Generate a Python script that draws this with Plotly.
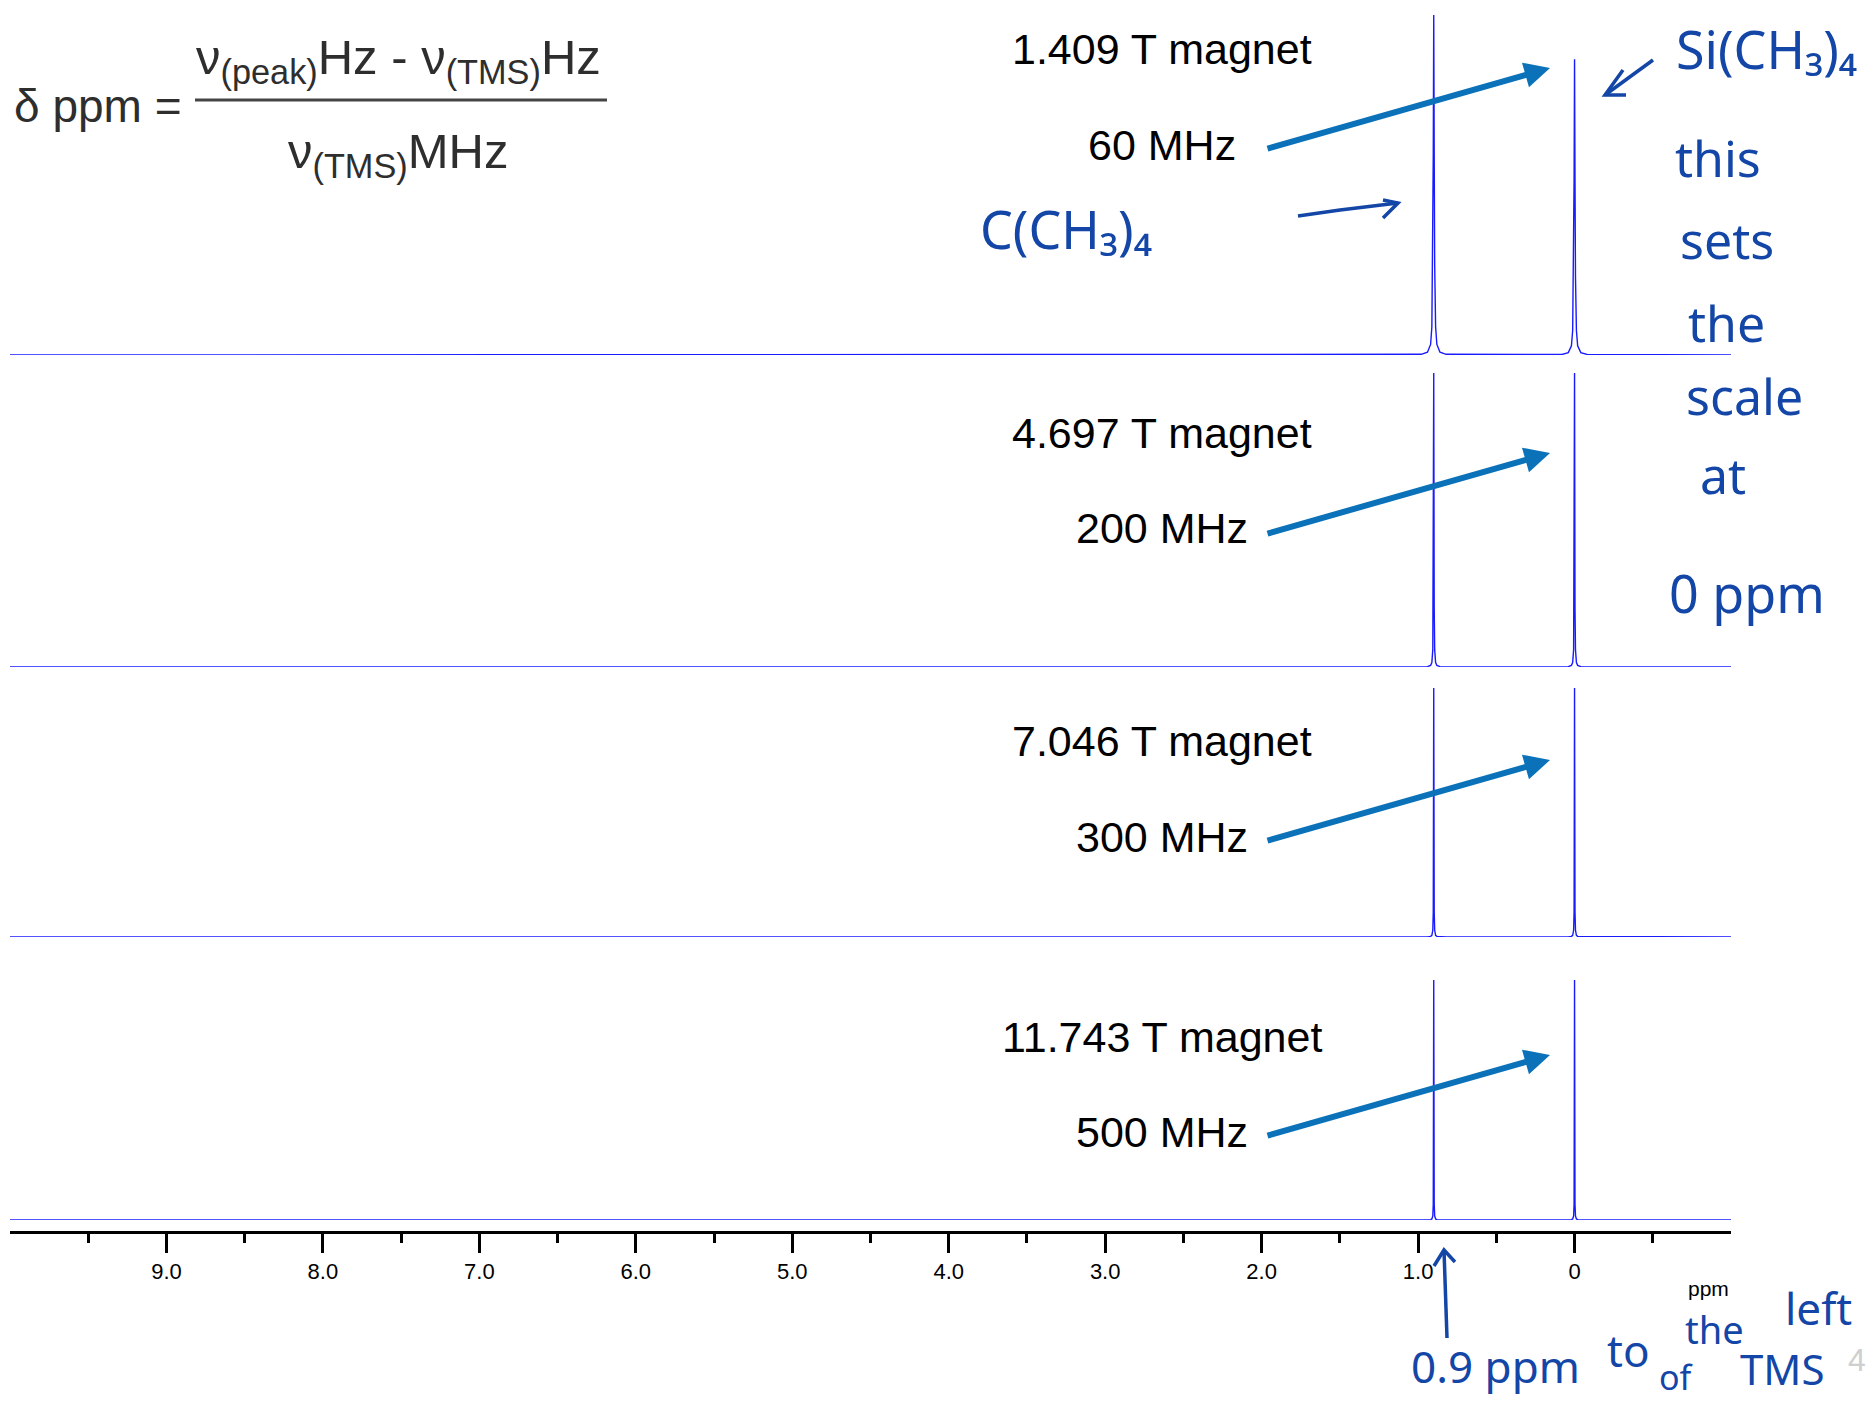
import plotly.graph_objects as go

W, H = 1874, 1407          # browser window
PAD = 8                    # default body margin of the html page
FW, FH = W - 2 * PAD, H - 2 * PAD   # figure size so that it fits in the window

# ---------------- data ----------------
peak_ppm = [0.9, 0.0]                     # C(CH3)4 and Si(CH3)4 (TMS)
field_labels = ["1.409 T magnet", "4.697 T magnet", "7.046 T magnet", "11.743 T magnet"]
freq_labels = ["60 MHz", "200 MHz", "300 MHz", "500 MHz"]
peak_heights = [[1.0, 0.87], [1.0, 1.0], [1.0, 1.0], [1.0, 1.0]]
axis_range = [10.0, -1.0]
profile_offsets = [-0.08, -0.04, -0.02, -0.012, -0.006, -0.003, 0.0,
                   0.003, 0.006, 0.012, 0.02, 0.04, 0.08]
profile_60 = [0.002, 0.008, 0.031, 0.083, 0.265, 0.59, 1.0, 0.59, 0.265, 0.083, 0.031, 0.008, 0.002]
profile_200 = [0.0004, 0.0014, 0.0056, 0.015, 0.059, 0.2, 1.0, 0.2, 0.059, 0.015, 0.0056, 0.0014, 0.0004]
profile_300 = [0.0002, 0.0006, 0.0025, 0.0069, 0.027, 0.1, 1.0, 0.1, 0.027, 0.0069, 0.0025, 0.0006, 0.0002]
profile_500 = [0.0001, 0.0004, 0.0016, 0.0044, 0.017, 0.066, 1.0, 0.066, 0.017, 0.0044, 0.0016, 0.0004, 0.0001]
profiles = [profile_60, profile_200, profile_300, profile_500]
major_ticks = [9, 8, 7, 6, 5, 4, 3, 2, 1, 0]
major_tick_text = ["9.0", "8.0", "7.0", "6.0", "5.0", "4.0", "3.0", "2.0", "1.0", "0"]
minor_ticks = [9.5, 8.5, 7.5, 6.5, 5.5, 4.5, 3.5, 2.5, 1.5, 0.5, -0.5]

# ---------------- layout helpers (window pixels -> paper fraction) ----------------
def fx(x):
    return (x - PAD) / FW

def fy(y):
    return 1 - (y - PAD) / FH

# panel pixel geometry: (baseline y, top y)
panel_px = [(355, 15), (667, 373), (937, 688), (1220, 980)]

fig = go.Figure()
LINE = "#1a1aff"

for i in range(4):
    xs, ys = [axis_range[1]], [0.0]
    for p, h in sorted(zip(peak_ppm, peak_heights[i])):
        for o, v in zip(profile_offsets, profiles[i]):
            xs.append(p + o)
            ys.append(h * v)
    xs.append(axis_range[0])
    ys.append(0.0)
    fig.add_trace(go.Scatter(
        x=xs, y=ys, mode="lines", line=dict(color=LINE, width=1.4),
        xaxis="x", yaxis="y" if i == 0 else f"y{i+1}", showlegend=False,
        hoverinfo="skip"))

layout = dict(
    width=FW, height=FH, margin=dict(l=0, r=0, t=0, b=0),
    paper_bgcolor="white", plot_bgcolor="white", showlegend=False,
    xaxis=dict(
        range=axis_range, domain=[fx(10), fx(1731)], anchor="free",
        position=fy(1232), showline=True, linecolor="black", linewidth=3,
        showgrid=False, zeroline=False, ticks="outside", ticklen=19,
        tickwidth=3, tickcolor="black", tickmode="array",
        tickvals=major_ticks, ticktext=major_tick_text,
        tickfont=dict(family="Liberation Sans, Arial", size=22, color="black"),
        minor=dict(tickmode="array", tickvals=minor_ticks, ticks="outside",
                   ticklen=9, tickwidth=3, tickcolor="black", showgrid=False),
    ),
)
for i, (base, top) in enumerate(panel_px):
    key = "yaxis" if i == 0 else f"yaxis{i+1}"
    layout[key] = dict(domain=[fy(base), fy(top)], range=[0, 1], visible=False,
                       anchor="x", fixedrange=True)

annotations = []
shapes = []

# formula
FORM = "#2e2e2e"
ffont = dict(family="Liberation Sans, Arial", size=46, color=FORM)
nfont = dict(family="Liberation Sans, Arial", size=49, color=FORM)
annotations.append(dict(xref="paper", yref="paper", x=fx(12), y=fy(106),
                        xanchor="left", yanchor="middle", showarrow=False,
                        text="δ ppm =", font=ffont))
annotations.append(dict(xref="paper", yref="paper", x=fx(398), y=fy(60),
                        xanchor="center", yanchor="middle", showarrow=False,
                        text="ν<sub>(peak)</sub>Hz - ν<sub>(TMS)</sub>Hz", font=nfont))
annotations.append(dict(xref="paper", yref="paper", x=fx(398), y=fy(155),
                        xanchor="center", yanchor="middle", showarrow=False,
                        text="ν<sub>(TMS)</sub>MHz", font=nfont))
shapes.append(dict(type="line", xref="paper", yref="paper", x0=fx(195), x1=fx(607),
                   y0=fy(100), y1=fy(100), line=dict(color="#444444", width=3)))

# field / frequency labels + arrows
text_font = dict(family="Liberation Sans, Arial", size=43, color="black")
label_y = [(49, 145), (433, 528), (741, 837), (1037, 1132)]
arrow_tip = [(1550, 68), (1550, 453), (1550, 760), (1550, 1055)]
for i in range(4):
    annotations.append(dict(xref="paper", yref="paper", x=fx(1162), y=fy(label_y[i][0]),
                            xanchor="center", yanchor="middle", showarrow=False,
                            text=field_labels[i], font=text_font))
    annotations.append(dict(xref="paper", yref="paper", x=fx(1162), y=fy(label_y[i][1]),
                            xanchor="center", yanchor="middle", showarrow=False,
                            text=freq_labels[i], font=text_font))
    tx, ty = arrow_tip[i]
    annotations.append(dict(xref="paper", yref="paper", x=fx(tx), y=fy(ty),
                            axref="pixel", ayref="pixel", ax=-284, ay=81,
                            text="", showarrow=True, arrowhead=2, arrowsize=0.85,
                            arrowwidth=6, arrowcolor="#0b72b9", standoff=0))

# x-axis unit label
annotations.append(dict(xref="paper", yref="paper", x=fx(1731), y=fy(1288),
                        xanchor="right", yanchor="middle", showarrow=False,
                        text="ppm", font=dict(family="Liberation Sans, Arial", size=21, color="black")))

# handwritten notes: (text, x, y, size)
INK = "#1346a6"
notes = [
    ("C(CH₃)₄", 1066, 228, 52),
    ("Si(CH₃)₄", 1766, 48, 52),
    ("this", 1718, 158, 50),
    ("sets", 1727, 240, 50),
    ("the", 1726, 323, 50),
    ("scale", 1744, 396, 50),
    ("at", 1723, 475, 50),
    ("0 ppm", 1747, 593, 52),
    ("0.9 ppm", 1495, 1366, 44),
    ("to", 1628, 1350, 44),
    ("the", 1714, 1329, 38),
    ("left", 1818, 1308, 44),
    ("of", 1676, 1377, 34),
    ("TMS", 1782, 1368, 42),
]
for t, x, y, s in notes:
    annotations.append(dict(xref="paper", yref="paper", x=fx(x), y=fy(y),
                            xanchor="center", yanchor="middle", showarrow=False,
                            text=t, font=dict(family="Noto Sans, DejaVu Sans", size=s, color=INK)))

# page number at the right edge
annotations.append(dict(xref="paper", yref="paper", x=fx(1846), y=fy(1360),
                        xanchor="left", yanchor="middle", showarrow=False,
                        text="4", font=dict(family="Liberation Sans, Arial", size=32, color="#cfcfcf")))

# hand-drawn arrows
def path(pts):
    return "M " + " L ".join(f"{fx(x):.5f},{fy(y):.5f}" for x, y in pts)

ink_line = dict(color=INK, width=3.5)
for pts in [
    [(1298, 216), (1340, 210), (1398, 203)],            # -> toward C(CH3)4 peak
    [(1383, 200), (1398, 203), (1383, 218)],
    [(1653, 60), (1605, 95)],                             # Si(CH3)4 arrow
    [(1623, 70), (1605, 95), (1626, 95)],
    [(1447, 1338), (1444, 1250)],                         # up arrow at 0.9 ppm
    [(1434, 1266), (1444, 1250), (1455, 1262)],
]:
    shapes.append(dict(type="path", xref="paper", yref="paper", path=path(pts),
                       line=ink_line))

layout["annotations"] = annotations
layout["shapes"] = shapes
fig.update_layout(**layout)
fig.write_html("out.html")
